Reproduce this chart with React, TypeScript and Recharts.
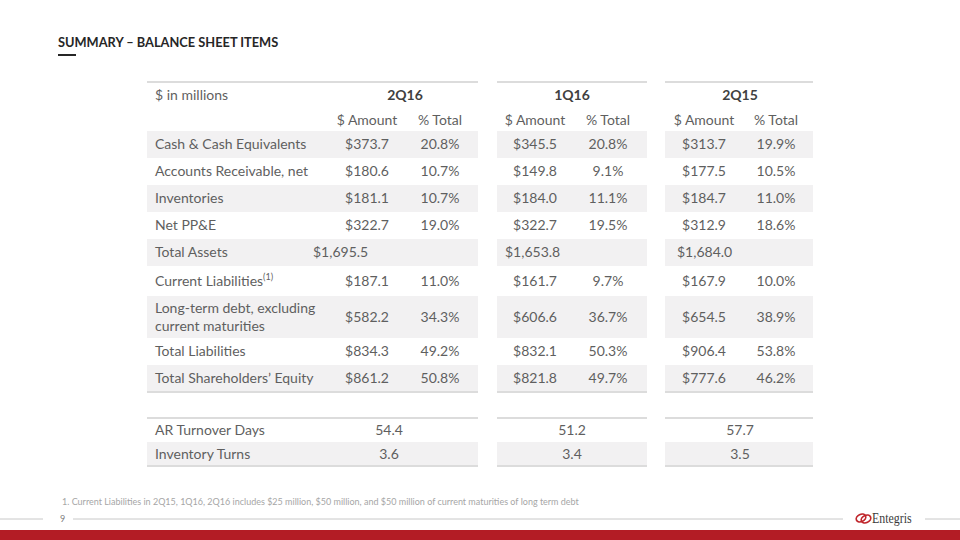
import React from "react"
import { Surface, Layer, Text, Rectangle } from "recharts"

const periods = ["2Q16", "1Q16", "2Q15"]

const rowLabels = [
  "Cash & Cash Equivalents",
  "Accounts Receivable, net",
  "Inventories",
  "Net PP&E",
  "Total Assets",
  "Current Liabilities",
  "Long-term debt, excluding|current maturities",
  "Total Liabilities",
  "Total Shareholders’ Equity",
]

const amounts2Q16 = [373.7, 180.6, 181.1, 322.7, 1695.5, 187.1, 582.2, 834.3, 861.2]
const amounts1Q16 = [345.5, 149.8, 184.0, 322.7, 1653.8, 161.7, 606.6, 832.1, 821.8]
const amounts2Q15 = [313.7, 177.5, 184.7, 312.9, 1684.0, 167.9, 654.5, 906.4, 777.6]

const pct2Q16 = [20.8, 10.7, 10.7, 19.0, null, 11.0, 34.3, 49.2, 50.8]
const pct1Q16 = [20.8, 9.1, 11.1, 19.5, null, 9.7, 36.7, 50.3, 49.7]
const pct2Q15 = [19.9, 10.5, 11.0, 18.6, null, 10.0, 38.9, 53.8, 46.2]

const ratioLabels = ["AR Turnover Days", "Inventory Turns"]
const arTurnoverDays = [54.4, 51.2, 57.7]
const inventoryTurns = [3.6, 3.4, 3.5]

const footnote =
  "1. Current Liabilities in 2Q15, 1Q16, 2Q16 includes $25 million, $50 million, and $50 million of current maturities of long term debt"

// layout
const FONT = "Lato, 'Open Sans', sans-serif"
const TEXT = "#5f5f5f"
const SHADE = "#f2f1f2"
const RULE = "#dcdcdc"

const groups = [
  { x0: 147, x1: 478, amtX: 367, pctX: 440, headX: 405, totalX: 313, ratioX: 389 },
  { x0: 497, x1: 647, amtX: 535, pctX: 608, headX: 572, totalX: 505, ratioX: 572 },
  { x0: 665, x1: 813, amtX: 704, pctX: 776, headX: 740, totalX: 677, ratioX: 740 },
]
const rowEdges = [131, 158, 185, 212, 239, 266, 296, 338, 365, 392]
const ratioEdges = [418, 442, 466]

const money = (v: number) =>
  "$" + v.toLocaleString("en-US", { minimumFractionDigits: 1, maximumFractionDigits: 1 })

function Cell({ x, y, children, anchor = "middle", weight = 400, size = 14, fill = TEXT, family = FONT }: any) {
  return (
    <Text
      x={x}
      y={y}
      textAnchor={anchor}
      verticalAnchor="middle"
      fontFamily={family}
      fontSize={size}
      fontWeight={weight}
      fill={fill}
    >
      {children}
    </Text>
  )
}

export default function App() {
  const amounts = [amounts2Q16, amounts1Q16, amounts2Q15]
  const pcts = [pct2Q16, pct1Q16, pct2Q15]

  return (
    <div style={{ position: "absolute", left: 0, top: 0, width: 960, height: 540, background: "#fff" }}>
      <Surface width={960} height={540}>
        {/* title */}
        <Cell x={58} y={42} anchor="start" weight={700} size={12.8} fill="#262626">
          SUMMARY – BALANCE SHEET ITEMS
        </Cell>
        <line x1={58} x2={76} y1={55} y2={55} stroke="#262626" strokeWidth={2} />

        {/* row shading */}
        {groups.map((g, gi) => (
          <Layer key={"shade" + gi}>
            {rowLabels.map((_, ri) =>
              ri % 2 === 0 ? (
                <Rectangle
                  key={ri}
                  x={g.x0}
                  y={rowEdges[ri]}
                  width={g.x1 - g.x0}
                  height={rowEdges[ri + 1] - rowEdges[ri]}
                  fill={SHADE}
                />
              ) : null
            )}
            <Rectangle x={g.x0} y={ratioEdges[1]} width={g.x1 - g.x0} height={ratioEdges[2] - ratioEdges[1]} fill={SHADE} />
            {[82, rowEdges[rowEdges.length - 1], ratioEdges[0], ratioEdges[2]].map((y) => (
              <line key={y} x1={g.x0} x2={g.x1} y1={y} y2={y} stroke={RULE} strokeWidth={2} />
            ))}
          </Layer>
        ))}

        {/* headers */}
        <Cell x={155} y={95} anchor="start">$ in millions</Cell>
        {periods.map((p, gi) => (
          <Layer key={p}>
            <Cell x={groups[gi].headX} y={95} weight={700} fill="#404040">{p}</Cell>
            <Cell x={groups[gi].amtX} y={120}>$ Amount</Cell>
            <Cell x={groups[gi].pctX} y={120}>% Total</Cell>
          </Layer>
        ))}

        {/* body */}
        {rowLabels.map((label, ri) => {
          const cy = (rowEdges[ri] + rowEdges[ri + 1]) / 2
          const lines = label.split("|")
          return (
            <Layer key={label}>
              {label === "Current Liabilities" ? (
                <text x={155} y={cy} dy="0.355em" fontFamily={FONT} fontSize={14} fill={TEXT}>
                  {label}
                  <tspan fontSize={9} dy="-0.7em">(1)</tspan>
                </text>
              ) : (
                lines.map((ln, li) => (
                  <Cell key={li} x={155} y={cy + (li - (lines.length - 1) / 2) * 18} anchor="start">
                    {ln}
                  </Cell>
                ))
              )}
              {groups.map((g, gi) => {
                const pct = pcts[gi][ri]
                return (
                  <Layer key={gi}>
                    {pct === null ? (
                      <Cell x={g.totalX} y={cy} anchor="start">{money(amounts[gi][ri])}</Cell>
                    ) : (
                      <>
                        <Cell x={g.amtX} y={cy}>{money(amounts[gi][ri])}</Cell>
                        <Cell x={g.pctX} y={cy}>{pct.toFixed(1) + "%"}</Cell>
                      </>
                    )}
                  </Layer>
                )
              })}
            </Layer>
          )
        })}

        {/* ratios */}
        {[arTurnoverDays, inventoryTurns].map((vals, ri) => {
          const cy = (ratioEdges[ri] + ratioEdges[ri + 1]) / 2
          return (
            <Layer key={ratioLabels[ri]}>
              <Cell x={155} y={cy} anchor="start">{ratioLabels[ri]}</Cell>
              {vals.map((v, gi) => (
                <Cell key={gi} x={groups[gi].ratioX} y={cy}>{v.toFixed(1)}</Cell>
              ))}
            </Layer>
          )
        })}

        {/* footnote & footer */}
        <Cell x={62} y={502} anchor="start" size={9} fill="#a6a6a6">{footnote}</Cell>
        <line x1={0} x2={43} y1={519} y2={519} stroke="#c8c8c8" strokeWidth={1} />
        <Cell x={60} y={519} anchor="start" size={9} fill="#7f7f7f">9</Cell>
        <line x1={73} x2={843} y1={519} y2={519} stroke="#c8c8c8" strokeWidth={1} />
        <line x1={925} x2={960} y1={519} y2={519} stroke="#c8c8c8" strokeWidth={1} />
        <ellipse cx={861} cy={518} rx={5} ry={3.6} fill="none" stroke="#c0272d" strokeWidth={1.7} transform="rotate(-25 861 518)" />
        <ellipse cx={866} cy={519} rx={5} ry={3.6} fill="none" stroke="#c0272d" strokeWidth={1.7} transform="rotate(-25 866 519)" />
        <Layer transform="translate(872 0) scale(0.85 1)">
          <Cell x={0} y={518} anchor="start" size={14} fill="#3a3a3a" family="'Liberation Serif', 'DejaVu Serif', serif">
            Entegris
          </Cell>
        </Layer>
        <Rectangle x={0} y={530} width={960} height={10} fill="#b31c25" />
      </Surface>
    </div>
  )
}
